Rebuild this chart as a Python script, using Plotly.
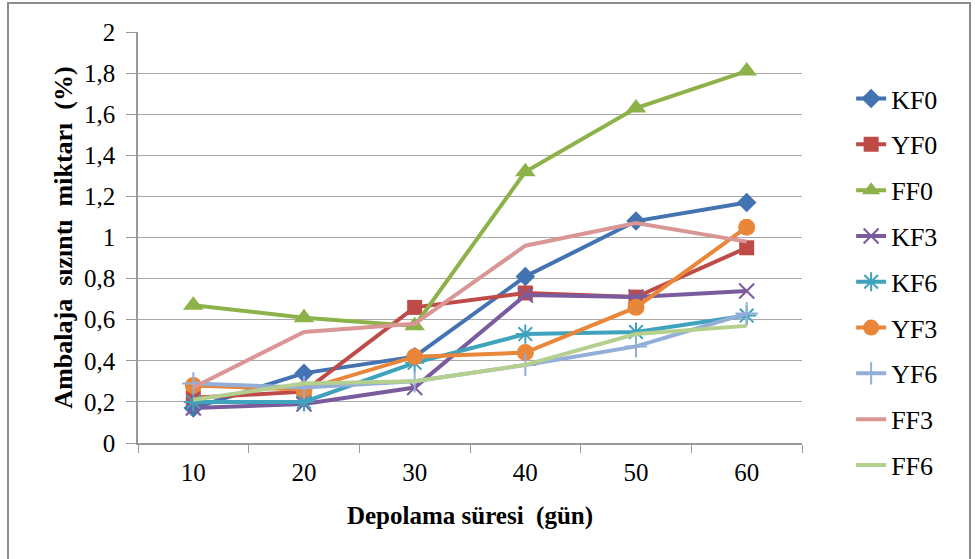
import plotly.graph_objects as go

days = ["10", "20", "30", "40", "50", "60"]
series_names = ["KF0", "YF0", "FF0", "KF3", "KF6", "YF3", "YF6", "FF3", "FF6"]
KF0 = [0.17, 0.34, 0.42, 0.81, 1.08, 1.17]
YF0 = [0.22, 0.25, 0.66, 0.73, 0.71, 0.95]
FF0 = [0.67, 0.61, 0.57, 1.32, 1.63, 1.81]
KF3 = [0.17, 0.19, 0.27, 0.72, 0.71, 0.74]
KF6 = [0.20, 0.20, 0.39, 0.53, 0.54, 0.62]
YF3 = [0.28, 0.26, 0.42, 0.44, 0.66, 1.05]
YF6 = [0.29, 0.27, 0.30, 0.38, 0.47, 0.63]
FF3 = [0.27, 0.54, 0.58, 0.96, 1.07, 0.98]
FF6 = [0.21, 0.29, 0.30, 0.38, 0.53, 0.57]
values = [KF0, YF0, FF0, KF3, KF6, YF3, YF6, FF3, FF6]

colors = ["#4373B0", "#BE4B48", "#8DB24A", "#7A5C9E", "#3FA3BE",
          "#E8863A", "#93AED8", "#D99694", "#B5CF8F"]
symbols = ["diamond", "square", "triangle-up", "x-thin-open", "asterisk-open",
           "circle", "cross-thin-open", None, None]
msizes = [15, 15, 18, 15, 16, 17, 16, 0, 0]

fig = go.Figure()
for i, name in enumerate(series_names):
    mode = "lines+markers" if symbols[i] else "lines"
    marker = dict(color=colors[i], size=msizes[i])
    if symbols[i]:
        marker["symbol"] = symbols[i]
        if "open" in symbols[i]:
            marker["line"] = dict(color=colors[i], width=2)
    fig.add_trace(go.Scatter(
        x=days, y=values[i], name=name, mode=mode,
        line=dict(color=colors[i], width=4),
        marker=marker, legendgroup=name,
    ))

font_family = "Liberation Serif, Times New Roman, serif"
fig.update_layout(
    width=975, height=559,
    margin=dict(l=138, r=173, t=32, b=116),
    paper_bgcolor="white", plot_bgcolor="white",
    separators=", ",
    font=dict(family=font_family, size=25, color="black"),
    showlegend=True,
    legend=dict(x=1.074, y=0.895, xanchor="left", yanchor="top",
                font=dict(family=font_family, size=26, color="black"),
                tracegroupgap=9, bgcolor="rgba(0,0,0,0)", maxheight=600),
    xaxis=dict(type="category", range=[-0.5, 5.5], tickson="boundaries",
               ticks="outside", ticklen=8, tickcolor="#999999",
               showline=True, linecolor="#999999", linewidth=1.5,
               showgrid=False, tickfont=dict(size=25), ticklabelstandoff=6,
               title=dict(text="<b>Depolama süresi  (gün)</b>", font=dict(size=25), standoff=22)),
    yaxis=dict(range=[0, 2], dtick=0.2, tick0=0,
               ticks="outside", ticklen=10, tickcolor="#999999",
               showline=True, linecolor="#999999", linewidth=1.5,
               showgrid=True, gridcolor="#A8A8A8", gridwidth=1.3,
               zeroline=False, tickfont=dict(size=25), ticklabelstandoff=6,
               title=dict(text="<b>Ambalaja  sızıntı  miktarı  (%)</b>", font=dict(size=26), standoff=4)),
    shapes=[dict(type="rect", xref="paper", yref="paper",
                 x0=(8 - 138) / 664, x1=(970 - 138) / 664,
                 y0=(443 - 575) / 411, y1=(443 - 3) / 411,
                 line=dict(color="#8C8C8C", width=2), layer="below")],
)

fig.write_html("out.html")
